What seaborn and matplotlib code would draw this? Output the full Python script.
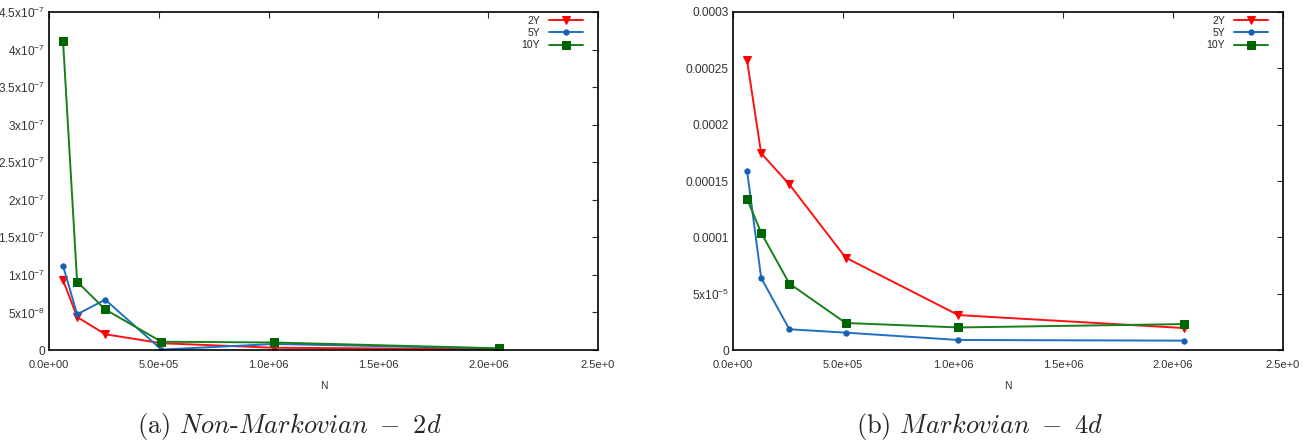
import matplotlib
matplotlib.use("Agg")
import matplotlib.pyplot as plt
import seaborn as sns
import pandas as pd

# sample sizes N (same for both panels)
n_values = [64000, 128000, 256000, 512000, 1024000, 2048000]

# (a) Non-Markovian - 2d
left_2y = [9.3e-8, 4.4e-8, 2.1e-8, 9.0e-9, 3.0e-9, 1.0e-9]
left_5y = [1.12e-7, 4.75e-8, 6.7e-8, 0.5e-9, 8.0e-9, 2.0e-9]
left_10y = [4.11e-7, 9.1e-8, 5.4e-8, 1.1e-8, 1.0e-8, 2.2e-9]

# (b) Markovian - 4d
right_2y = [2.57e-4, 1.746e-4, 1.47e-4, 8.2e-5, 3.1e-5, 1.95e-5]
right_5y = [1.59e-4, 6.4e-5, 1.84e-5, 1.54e-5, 8.9e-6, 8.3e-6]
right_10y = [1.34e-4, 1.04e-4, 5.9e-5, 2.4e-5, 2.0e-5, 2.3e-5]

series_names = ["2Y", "5Y", "10Y"]

x_ticks = [0, 5e5, 1e6, 1.5e6, 2e6, 2.5e6]
x_ticklabels = ["0.0e+00", "5.0e+05", "1.0e+06", "1.5e+06", "2.0e+06", "2.5e+0"]

left_yticks = [0, 5e-8, 1e-7, 1.5e-7, 2e-7, 2.5e-7, 3e-7, 3.5e-7, 4e-7, 4.5e-7]
left_yticklabels = ["0", "5x10$^{-8}$", "1x10$^{-7}$", "1.5x10$^{-7}$", "2x10$^{-7}$",
                    "2.5x10$^{-7}$", "3x10$^{-7}$", "3.5x10$^{-7}$", "4x10$^{-7}$", "4.5x10$^{-7}$"]
right_yticks = [0, 5e-5, 1e-4, 1.5e-4, 2e-4, 2.5e-4, 3e-4]
right_yticklabels = ["0", "5x10$^{-5}$", "0.0001", "0.00015", "0.0002", "0.00025", "0.0003"]

captions = [r"(a) $\mathit{Non}$-$\mathit{Markovian}\ -\ \mathit{2d}$",
            r"(b) $\mathit{Markovian}\ -\ \mathit{4d}$"]

sns.set_style("white")
plt.rcParams["font.family"] = ["Liberation Sans", "DejaVu Sans"]
plt.rcParams["mathtext.fontset"] = "custom"
plt.rcParams["mathtext.rm"] = "Liberation Sans"
plt.rcParams["mathtext.it"] = "Liberation Sans:italic"

colors = {"2Y": "#ff1111", "5Y": "#1f6fc2", "10Y": "#17801a"}
marker_colors = {"2Y": "#ff0000", "5Y": "#1560b0", "10Y": "#006400"}
markers = {"2Y": "v", "5Y": "o", "10Y": "s"}
msizes = {"2Y": 5.5, "5Y": 3.8, "10Y": 5.5}

fig = plt.figure(figsize=(13.11, 4.48), dpi=100)
ax_left = fig.add_axes([49 / 1311, 1 - 350 / 448, 549 / 1311, 338 / 448])
ax_right = fig.add_axes([733 / 1311, 1 - 350 / 448, 550 / 1311, 338 / 448])

panels = [
    (ax_left, [left_2y, left_5y, left_10y], left_yticks, left_yticklabels),
    (ax_right, [right_2y, right_5y, right_10y], right_yticks, right_yticklabels),
]

for ax, values, yticks, yticklabels in panels:
    for name, vals in zip(series_names, values):
        df = pd.DataFrame({"N": n_values, "err": vals})
        sns.lineplot(data=df, x="N", y="err", ax=ax, color=colors[name], linewidth=1.4,
                     marker=markers[name], markersize=msizes[name],
                     markerfacecolor=marker_colors[name], markeredgecolor=marker_colors[name],
                     label=name)
    ax.set_xlim(0, 2.5e6)
    ax.set_ylim(yticks[0], yticks[-1])
    ax.set_xticks(x_ticks)
    ax.set_xticklabels(x_ticklabels)
    ax.set_yticks(yticks)
    ax.set_yticklabels(yticklabels)
    ax.tick_params(direction="in", length=4, width=0.8, top=True, right=True,
                   labelsize=8.6, labelcolor="#333333", pad=3)
    ax.tick_params(axis="x", labelsize=8, pad=7)
    ax.set_xlabel("N", fontsize=7.5, color="#333333", labelpad=8)
    ax.set_ylabel("")
    for sp in ax.spines.values():
        sp.set_color("black")
        sp.set_linewidth(1.2)
    ax.legend(loc="upper right", bbox_to_anchor=(1 - 15 / 549, 1 - 4 / 338),
              frameon=False, markerfirst=False, fontsize=7.5, handlelength=3.3,
              handletextpad=0.8, labelspacing=0.2, borderpad=0, borderaxespad=0,
              numpoints=1)

# sub-captions under each panel
fig.text(289 / 1311, 1 - 426 / 448, captions[0], ha="center", va="center",
         fontsize=19, family="cmr10", math_fontfamily="cm")
fig.text(980 / 1311, 1 - 426 / 448, captions[1], ha="center", va="center",
         fontsize=19, family="cmr10", math_fontfamily="cm")

plt.savefig("out.png", dpi=100)
